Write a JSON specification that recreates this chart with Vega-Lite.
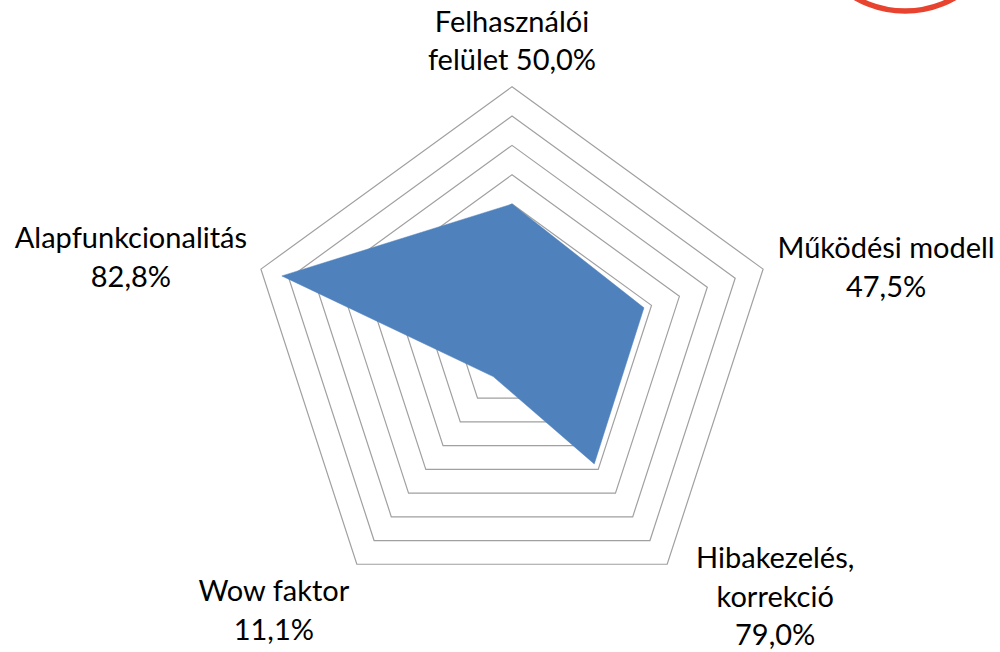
{
  "$schema": "https://vega.github.io/schema/vega-lite/v6.json",
  "width": 1000,
  "height": 652,
  "autosize": {"type": "none"},
  "padding": 0,
  "background": "white",
  "config": {"view": {"stroke": null}},
  "datasets": {
    "scores": [
      {"idx": 0, "category": "Felhasználói felület", "value": 50.0, "label": "Felhasználói\nfelület 50,0%"},
      {"idx": 1, "category": "Működési modell", "value": 47.3, "label": "Működési modell\n47,5%"},
      {"idx": 2, "category": "Hibakezelés, korrekció", "value": 47.7, "label": "Hibakezelés,\nkorrekció\n79,0%"},
      {"idx": 3, "category": "Wow faktor", "value": 10.9, "label": "Wow faktor\n11,1%"},
      {"idx": 4, "category": "Alapfunkcionalitás", "value": 82.5, "label": "Alapfunkcionalitás\n82,8%"}
    ],
    "rings": [
      {"level": 10, "k": [0, 1, 2, 3, 4]},
      {"level": 20, "k": [0, 1, 2, 3, 4]},
      {"level": 30, "k": [0, 1, 2, 3, 4]},
      {"level": 40, "k": [0, 1, 2, 3, 4]},
      {"level": 50, "k": [0, 1, 2, 3, 4]},
      {"level": 60, "k": [0, 1, 2, 3, 4]},
      {"level": 70, "k": [0, 1, 2, 3, 4]},
      {"level": 80, "k": [0, 1, 2, 3, 4]},
      {"level": 90, "k": [0, 1, 2, 3, 4]}
    ],
    "marker": [{"name": "kör"}]
  },
  "layer": [
    {
      "data": {"name": "rings"},
      "transform": [
        {"flatten": ["k"]},
        {"calculate": "datum.k * 2 * PI / 5", "as": "ang"},
        {"calculate": "datum.level * sin(datum.ang)", "as": "px"},
        {"calculate": "datum.level * cos(datum.ang)", "as": "py"}
      ],
      "mark": {"type": "line", "interpolate": "linear-closed", "stroke": "#A0A0A0", "strokeWidth": 1.2},
      "encoding": {
        "x": {"field": "px", "type": "quantitative", "scale": {"domain": [-174.55, 166.36], "nice": false, "zero": false}, "axis": null},
        "y": {"field": "py", "type": "quantitative", "scale": {"domain": [-102.72, 119.56], "nice": false, "zero": false}, "axis": null},
        "detail": {"field": "level", "type": "nominal"},
        "order": {"field": "k", "type": "quantitative"}
      }
    },
    {
      "data": {"name": "scores"},
      "transform": [
        {"calculate": "datum.idx * 2 * PI / 5", "as": "ang"},
        {"calculate": "datum.value * sin(datum.ang)", "as": "px"},
        {"calculate": "datum.value * cos(datum.ang)", "as": "py"},
        {"calculate": "90 * sin(datum.ang)", "as": "lx"},
        {"calculate": "90 * cos(datum.ang)", "as": "ly"}
      ],
      "layer": [
        {
          "mark": {"type": "line", "interpolate": "linear-closed", "filled": true, "fill": "#4F81BD", "stroke": "#4F81BD", "strokeWidth": 0.5},
          "encoding": {
            "x": {"field": "px", "type": "quantitative", "scale": {"domain": [-174.55, 166.36], "nice": false, "zero": false}, "axis": null},
            "y": {"field": "py", "type": "quantitative", "scale": {"domain": [-102.72, 119.56], "nice": false, "zero": false}, "axis": null},
            "order": {"field": "idx", "type": "quantitative"}
          }
        },
        {
          "transform": [{"filter": "datum.idx == 0"}],
          "mark": {"type": "text", "font": "Lato", "fontSize": 29, "color": "#000000", "align": "center", "baseline": "middle", "lineBreak": "\n", "lineHeight": 38.5, "dx": 0, "dy": -64},
          "encoding": {
            "x": {"field": "lx", "type": "quantitative"},
            "y": {"field": "ly", "type": "quantitative"},
            "text": {"field": "label"}
          }
        },
        {
          "transform": [{"filter": "datum.idx == 1"}],
          "mark": {"type": "text", "font": "Lato", "fontSize": 29, "color": "#000000", "align": "center", "baseline": "middle", "lineBreak": "\n", "lineHeight": 38.5, "dx": 123, "dy": -20},
          "encoding": {
            "x": {"field": "lx", "type": "quantitative"},
            "y": {"field": "ly", "type": "quantitative"},
            "text": {"field": "label"}
          }
        },
        {
          "transform": [{"filter": "datum.idx == 2"}],
          "mark": {"type": "text", "font": "Lato", "fontSize": 29, "color": "#000000", "align": "center", "baseline": "middle", "lineBreak": "\n", "lineHeight": 38.5, "dx": 108, "dy": -5},
          "encoding": {
            "x": {"field": "lx", "type": "quantitative"},
            "y": {"field": "ly", "type": "quantitative"},
            "text": {"field": "label"}
          }
        },
        {
          "transform": [{"filter": "datum.idx == 3"}],
          "mark": {"type": "text", "font": "Lato", "fontSize": 29, "color": "#000000", "align": "center", "baseline": "middle", "lineBreak": "\n", "lineHeight": 38.5, "dx": -83, "dy": 28},
          "encoding": {
            "x": {"field": "lx", "type": "quantitative"},
            "y": {"field": "ly", "type": "quantitative"},
            "text": {"field": "label"}
          }
        },
        {
          "transform": [{"filter": "datum.idx == 4"}],
          "mark": {"type": "text", "font": "Lato", "fontSize": 29, "color": "#000000", "align": "center", "baseline": "middle", "lineBreak": "\n", "lineHeight": 38.5, "dx": -130, "dy": -30},
          "encoding": {
            "x": {"field": "lx", "type": "quantitative"},
            "y": {"field": "ly", "type": "quantitative"},
            "text": {"field": "label"}
          }
        }
      ]
    },
    {
      "data": {"name": "marker"},
      "mark": {"type": "point", "shape": "circle", "filled": false, "stroke": "#E8432F", "strokeWidth": 5.5, "size": 40000, "clip": true, "opacity": 1},
      "encoding": {
        "x": {"datum": 134.0, "type": "quantitative"},
        "y": {"datum": 149.9, "type": "quantitative"}
      }
    }
  ]
}
